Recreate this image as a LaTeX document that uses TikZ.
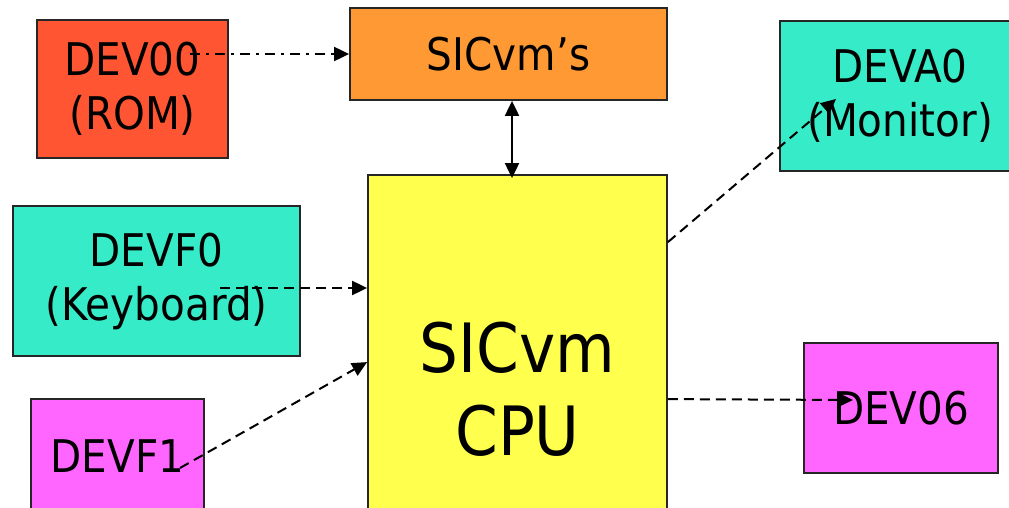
\documentclass[tikz,border=0pt]{standalone}
\usepackage{fontspec}
\setmainfont{DejaVu Sans}[FakeStretch=0.9]
\usetikzlibrary{arrows.meta,calc}
\definecolor{romred}{HTML}{FF5533}
\definecolor{memorange}{HTML}{FF9933}
\definecolor{devteal}{HTML}{36EBC8}
\definecolor{cpuyellow}{HTML}{FFFF4D}
\definecolor{devpink}{HTML}{FF66FF}
\begin{document}
\begin{tikzpicture}[x=1pt,y=-1pt,
  box/.style={draw=black!85, line width=1.8pt, inner sep=0pt, align=center,
    font=\fontsize{45}{54}\selectfont},
  tip/.style={-{Triangle[length=15pt,width=14pt]}},
  conn/.style={line width=2pt, tip},
  dsh/.style={dash pattern=on 10pt off 6pt},
  dshdot/.style={dash pattern=on 10pt off 6pt on 3pt off 6pt}]
\useasboundingbox (0,0) rectangle (1009,508);
\clip (0,0) rectangle (1009,508);
% boxes
\node[box, fill=romred, minimum width=191pt, minimum height=138pt] (dev00) at (132.5,89) {DEV00\\(ROM)};
\node[box, fill=memorange, minimum width=317pt, minimum height=92pt] (sicm) at (508.5,54) {SICvm’s};
\node[box, fill=cpuyellow, minimum width=299pt, minimum height=428pt, font=\fontsize{68}{83}\selectfont] (cpu) at (517.5,389) {SICvm\\CPU};
\node[box, fill=devteal, minimum width=240pt, minimum height=150pt] (deva0) at (900,96) {DEVA0\\(Monitor)};
\node[box, fill=devteal, minimum width=287pt, minimum height=150pt] (devf0) at (156.5,281) {DEVF0\\(Keyboard)};
\node[box, fill=devpink, minimum width=173pt, minimum height=114pt] (devf1) at (117.5,456) {DEVF1};
\node[box, fill=devpink, minimum width=194pt, minimum height=130pt] (dev06) at (901,408) {DEV06};
% connector end points
\coordinate (p00) at (190,54);
\coordinate (bx) at (512,0);
\coordinate (pf0) at (220,288);
\coordinate (pf1) at (180,468);
\coordinate (qf1) at ($(cpu.north west)+(0,188)$);
\coordinate (pa0) at ($(cpu.north east)+(0,68)$);
\coordinate (qa0) at (836,99);
\coordinate (p06) at ($(cpu.north east)+(0,225)$);
\coordinate (q06) at (853,400);
% connectors
\draw[conn,dshdot] (p00) -- (sicm.west);
\draw[line width=2pt, {Triangle[length=15pt,width=14pt]}-{Triangle[length=15pt,width=14pt]}] (sicm.south -| bx) -- ($(cpu.north -| bx)+(0,4)$);
\draw[conn,dsh] (pf0) -- (cpu.west |- pf0);
\draw[conn,dsh] (pf1) -- (qf1);
\draw[conn,dsh] (pa0) -- (qa0);
\draw[conn,dsh] (p06) -- (q06);
\end{tikzpicture}
\end{document}
